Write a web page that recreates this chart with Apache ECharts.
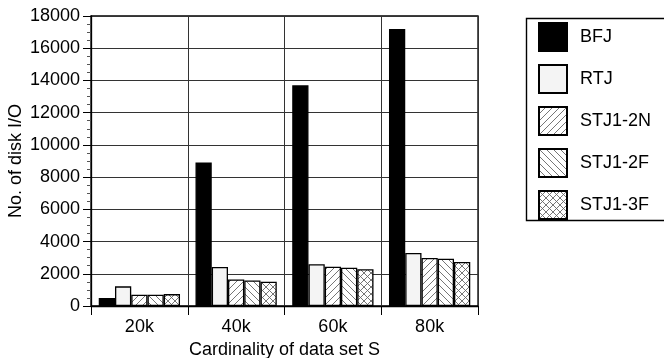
<!DOCTYPE html>
<html>
<head>
<meta charset="utf-8">
<script src="https://cdn.jsdelivr.net/npm/echarts@6/dist/echarts.min.js"></script>
<style>
  html, body { margin: 0; padding: 0; background: #fff; }
  #chart { width: 664px; height: 358px; }
</style>
</head>
<body>
<div id="chart"></div>
<script>
// Disk I/O count per join method, grouped by cardinality of data set S
const categories = ['20k', '40k', '60k', '80k'];
const seriesNames = ['BFJ', 'RTJ', 'STJ1-2N', 'STJ1-2F', 'STJ1-3F'];
const bfj     = [500, 8900, 13700, 17200];
const rtj     = [1220, 2420, 2590, 3290];
const stj12n  = [700, 1650, 2440, 2980];
const stj12f  = [700, 1590, 2380, 2940];
const stj13f  = [740, 1510, 2280, 2730];
const yTicks  = [0, 2000, 4000, 6000, 8000, 10000, 12000, 14000, 16000, 18000];

const FONT = '"Liberation Sans", Arial, Helvetica, sans-serif';
const FS = 18;

// Hatch tiles drawn on small canvases and used as repeating fills
function hatchTile(dirs) {
  const s = 7;
  const c = document.createElement('canvas');
  c.width = s; c.height = s;
  const g = c.getContext('2d');
  g.fillStyle = '#ffffff';
  g.fillRect(0, 0, s, s);
  g.strokeStyle = '#666666';
  g.lineWidth = 0.9;
  dirs.forEach(function (d) {
    g.beginPath();
    if (d === '/') {
      g.moveTo(-1, s + 1); g.lineTo(s + 1, -1);
      g.moveTo(-1, 1); g.lineTo(1, -1);
      g.moveTo(s - 1, s + 1); g.lineTo(s + 1, s - 1);
    } else {
      g.moveTo(-1, -1); g.lineTo(s + 1, s + 1);
      g.moveTo(-1, s - 1); g.lineTo(1, s + 1);
      g.moveTo(s - 1, -1); g.lineTo(s + 1, 1);
    }
    g.stroke();
  });
  return { image: c, repeat: 'repeat' };
}

const fills = [
  '#000000',
  '#f4f4f4',
  hatchTile(['/']),
  hatchTile(['\\']),
  hatchTile(['/', '\\'])
];
const values = [bfj, rtj, stj12n, stj12f, stj13f];

const chart = echarts.init(document.getElementById('chart'), null, { renderer: 'canvas' });

chart.setOption({
  backgroundColor: '#ffffff',
  animation: false,
  textStyle: { fontFamily: FONT },
  grid: {
    left: 91, right: 186, top: 16, bottom: 52,
    outerBoundsMode: 'none',
    containLabel: false,
    show: true, borderColor: '#000', borderWidth: 1.3, backgroundColor: 'transparent'
  },
  // Legend frame runs past the right edge of the canvas
  graphic: [{
    type: 'rect',
    left: 524, top: 16,
    shape: { width: 160, height: 202 },
    style: { fill: 'none', stroke: '#000', lineWidth: 1.4 },
    silent: true,
    z: 0
  }],
  legend: {
    orient: 'vertical',
    left: 525, top: 16,
    padding: [6, 20, 7, 13],
    itemWidth: 28, itemHeight: 28, itemGap: 12,
    borderWidth: 0,
    icon: 'rect',
    data: seriesNames,
    textStyle: { fontFamily: FONT, fontSize: FS, color: '#000', padding: [0, 0, 0, 8] }
  },
  xAxis: {
    type: 'category',
    data: categories,
    name: 'Cardinality of data set S',
    nameLocation: 'middle',
    nameGap: 35,
    nameMoveOverlap: false,
    nameTextStyle: { fontFamily: FONT, fontSize: FS, color: '#000' },
    axisLine: { lineStyle: { color: '#000', width: 1.3 } },
    axisTick: { show: true, length: 9, inside: false, lineStyle: { color: '#000', width: 1 } },
    axisLabel: { fontFamily: FONT, fontSize: FS, color: '#000', margin: 12 },
    splitLine: { show: true, lineStyle: { color: '#333', width: 1 } }
  },
  yAxis: {
    type: 'value',
    min: yTicks[0],
    max: yTicks[yTicks.length - 1],
    interval: yTicks[1] - yTicks[0],
    name: 'No. of disk I/O',
    nameLocation: 'middle',
    nameGap: 66,
    nameMoveOverlap: false,
    nameRotate: 90,
    nameTextStyle: { fontFamily: FONT, fontSize: FS, color: '#000' },
    axisLine: { show: true, lineStyle: { color: '#000', width: 1.3 } },
    axisTick: { show: true, length: 8, lineStyle: { color: '#000', width: 1 } },
    minorTick: { show: true, splitNumber: 4, length: 4, lineStyle: { color: '#555', width: 1 } },
    axisLabel: {
      fontFamily: FONT, fontSize: FS, color: '#000', margin: 11,
      formatter: function (v) { return String(v); }
    },
    splitLine: { show: true, lineStyle: { color: '#333', width: 1 } }
  },
  series: seriesNames.map(function (name, i) {
    return {
      name: name,
      type: 'bar',
      data: values[i],
      barGap: '0%',
      barCategoryGap: '16%',
      itemStyle: {
        color: fills[i],
        borderColor: '#000',
        borderWidth: 1.3
      }
    };
  })
});
</script>
</body>
</html>
